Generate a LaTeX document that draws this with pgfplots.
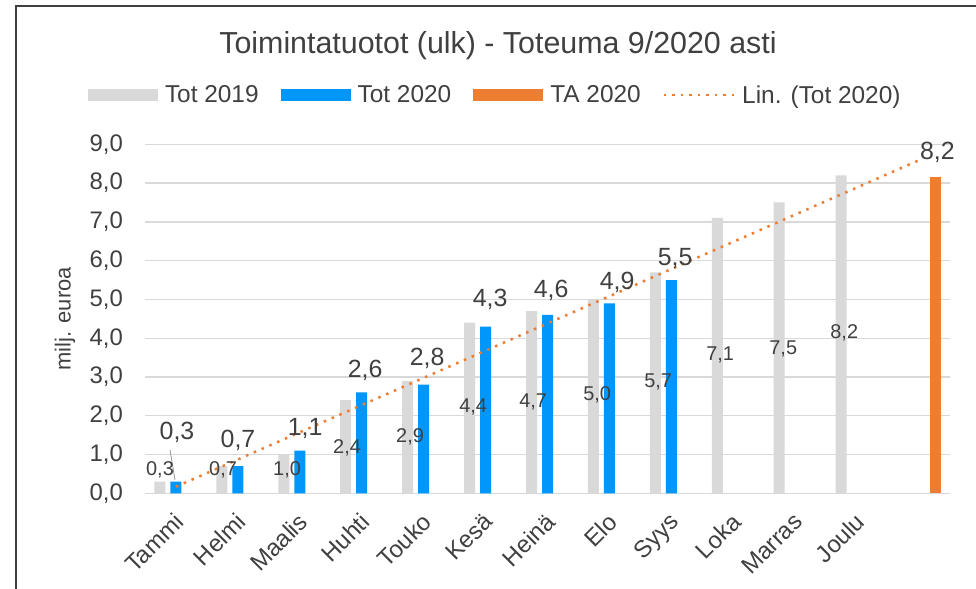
\documentclass[border=0pt]{standalone}
\usepackage{pgfplots}
\pgfplotsset{compat=1.18}
\usepackage{fontspec}
\setmainfont{Liberation Sans}
\definecolor{g19}{HTML}{D9D9D9}
\definecolor{b20}{HTML}{0096FA}
\definecolor{ora}{HTML}{ED7D31}
\definecolor{txt}{HTML}{404040}
\definecolor{gridc}{HTML}{D9D9D9}
\begin{document}
\begin{tikzpicture}
\useasboundingbox (0,0) rectangle (976bp,-589bp);
\fill[white] (0,0) rectangle (976bp,-589bp);
\draw[line width=2bp, color=black!75] (16bp,-590bp) -- (16bp,-6bp) -- (978bp,-6bp);
\node[anchor=base, font=\fontsize{30.5}{34}\selectfont, text=txt, inner sep=0pt] at (498bp,-53.3bp) {Toimintatuotot (ulk) - Toteuma 9/2020 asti};
\begin{axis}[
  at={(145bp,-493.3bp)}, anchor=south west,
  scale only axis, width=805bp, height=349bp,
  xmin=0.5, xmax=13.5, ymin=0, ymax=9,
  clip=false,
  ytick={0,1,2,3,4,5,6,7,8,9},
  xtick={1,2,3,4,5,6,7,8,9,10,11,12},
  xticklabels={Tammi,Helmi,Maalis,Huhti,Touko,Kesä,Heinä,Elo,Syys,Loka,Marras,Joulu},
  axis x line*=bottom, axis y line*=left,
  x axis line style={draw=gridc, line width=1.3bp, -},
  y axis line style={draw=none},
  major tick length=0pt,
  ymajorgrids, grid style={gridc, line width=1.3bp},
  /pgf/number format/assume math mode=true,
  yticklabel style={/pgf/number format/.cd, fixed, fixed zerofill, precision=1, use comma, /tikz/.cd,
    font=\fontsize{24}{28}\selectfont, text=txt, anchor=east, inner sep=0pt, xshift=-22bp},
  xticklabel style={font=\fontsize{24}{28}\selectfont, text=txt, inner sep=0pt, xshift=-3bp, yshift=-18bp, rotate=45, anchor=north east},
  ylabel={milj. euroa},
  ylabel style={at={(axis description cs:-0.0994,0.5)}, anchor=center, font=\fontsize{22}{26}\selectfont, text=txt},
  legend style={at={(-0.0708,1.1413)}, anchor=west, draw=none, fill=none, inner sep=0pt, outer sep=0pt,
    font=\fontsize{24.5}{28}\selectfont, text=txt, nodes={inner sep=0pt},
    /tikz/every odd column/.append style={column sep=7bp},
    /tikz/every even column/.append style={column sep=22bp}},
  legend columns=4,
]
\addplot[ybar, bar width=11bp, bar shift=-16bp, fill=g19, draw=none,
  legend image code/.code={\fill[g19] (0bp,-5.5bp) rectangle (70bp,5.5bp);}]
  coordinates {(1,0.3) (2,0.7) (3,1.0) (4,2.4) (5,2.9) (6,4.4) (7,4.7) (8,5.0) (9,5.7) (10,7.1) (11,7.5) (12,8.2)};
\addlegendentry{Tot 2019}
\addplot[ybar, bar width=11bp, bar shift=0bp, fill=b20, draw=none,
  legend image code/.code={\fill[b20] (0bp,-5.5bp) rectangle (70bp,5.5bp);}]
  coordinates {(1,0.3) (2,0.7) (3,1.1) (4,2.6) (5,2.8) (6,4.3) (7,4.6) (8,4.9) (9,5.5)};
\addlegendentry{Tot 2020}
\addplot[ybar, bar width=11bp, bar shift=16bp, fill=ora, draw=none,
  legend image code/.code={\fill[ora] (0bp,-5.5bp) rectangle (70bp,5.5bp);}]
  coordinates {(13,8.15)};
\addlegendentry{TA 2020}
\addplot[ora, line width=2.5bp, dash pattern=on 2.5bp off 6bp, mark=none,
  legend image code/.code={\draw[ora, line width=2.5bp, dash pattern=on 2.5bp off 6bp] (0bp,0bp) -- (70bp,0bp);}]
  coordinates {(1,0.171) (13,8.59)};
\addlegendentry{Lin. (Tot 2020)}
% leader line for first label
\draw[color=black!40, line width=0.8bp] (axis cs:0.904,1.116) -- (axis cs:0.985,0.343);
% Tot 2020 labels
\addplot[draw=none, mark=none, forget plot, nodes near coords, point meta=explicit symbolic,
  nodes near coords style={font=\fontsize{25}{28}\selectfont, text=txt, anchor=center, inner sep=0pt}]
  coordinates {(1.017,1.58) [0,3] (2.002,1.37) [0,7] (3.085,1.68) [1,1] (4.054,3.18) [2,6] (5.056,3.49) [2,8]
   (6.074,4.99) [4,3] (7.059,5.22) [4,6] (8.125,5.45) [4,9] (9.062,6.06) [5,5] (13.295,8.80) [8,2]};
% Tot 2019 labels
\addplot[draw=none, mark=none, forget plot, nodes near coords, point meta=explicit symbolic,
  nodes near coords style={font=\fontsize{20}{24}\selectfont, text=txt, anchor=center, inner sep=0pt}]
  coordinates {(0.742,0.60) [0,3] (1.760,0.60) [0,7] (2.794,0.60) [1,0] (3.763,1.17) [2,4] (4.781,1.45) [2,9]
   (5.799,2.23) [4,4] (6.768,2.35) [4,7] (7.802,2.54) [5,0] (8.788,2.87) [5,7] (9.789,3.57) [7,1]
   (10.807,3.72) [7,5] (11.792,4.13) [8,2]};
\end{axis}
\end{tikzpicture}
\end{document}
